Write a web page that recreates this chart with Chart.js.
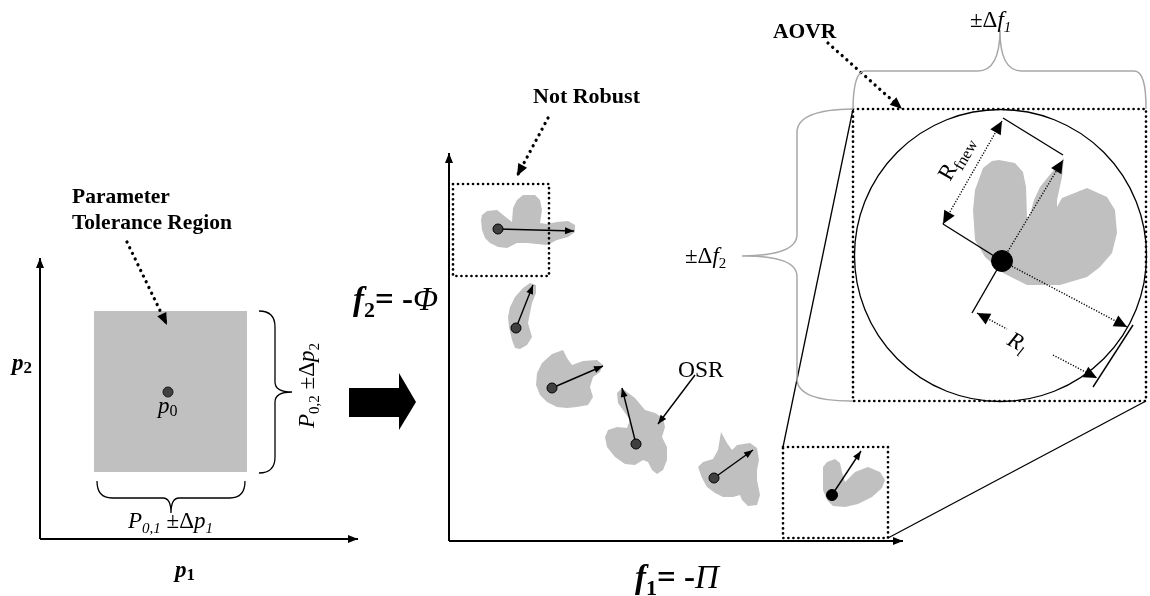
<!DOCTYPE html>
<html>
<head>
<meta charset="utf-8">
<title>Robustness of optimal solutions</title>
<script src="https://cdn.jsdelivr.net/npm/chart.js@4/dist/chart.umd.min.js"></script>
<style>
  html, body { margin: 0; padding: 0; background: #ffffff; overflow: hidden; }
  canvas { display: block; }
</style>
</head>
<body>
<canvas id="diagram" width="1150" height="596"></canvas>
<script>
// ---------------------------------------------------------------
// Geometry of the diagram, in drawing units (x right, y down).
// ---------------------------------------------------------------

// Parameter space (left panel)
const paramAxisX = [[40, 539], [358, 539]];
const paramAxisY = [[40, 539], [40, 258]];
const toleranceRegion = [[94, 311], [247, 311], [247, 472], [94, 472]];
const nominalPoint = [[168, 392]];
const toleranceCallout = [[127, 242], [167, 325]];

// Mapping arrow between the two spaces
const mappingArrow = [[349, 388], [399, 388], [399, 373], [416, 402], [399, 430], [399, 417], [349, 417]];

// Objective space (middle panel)
const objAxisX = [[449, 541], [903, 541]];
const objAxisY = [[449, 541], [449, 153]];

// Optimal solutions: centre point, arrow tip and outline of each OSR
const osrCenters = [[498, 229], [516, 328], [552, 388], [636, 444], [714, 478], [832, 495]];
const osrArrowTips = [[574, 231], [533, 285], [603, 366], [622, 388], [753, 450], [861, 451]];
const osrOutlines = [
  [[482,215],[487,211],[497,210],[507,218],[512,222],[513,208],[517,200],[523,195],[535,195],[540,200],[542,210],[540,223],[547,224],[557,222],[568,221],[575,225],[575,232],[568,237],[557,240],[547,245],[537,244],[527,243],[517,243],[507,248],[498,247],[490,243],[485,238],[482,230],[481,220]],
  [[510,307],[515,297],[523,288],[530,283],[536,285],[536,293],[532,303],[530,313],[528,323],[532,337],[527,345],[520,349],[515,348],[512,340],[509,327],[508,317]],
  [[537,373],[542,363],[552,354],[563,350],[567,358],[572,365],[583,361],[597,360],[603,365],[600,372],[593,377],[590,387],[593,397],[588,405],[577,407],[567,408],[557,407],[547,402],[540,395],[536,385]],
  [[617,393],[622,388],[627,392],[635,398],[645,410],[655,413],[663,418],[665,427],[662,437],[667,447],[667,460],[663,470],[657,474],[652,470],[648,462],[643,460],[635,465],[625,464],[615,457],[607,447],[605,437],[608,430],[617,427],[627,428],[630,420],[623,410],[618,403]],
  [[698,467],[703,462],[713,459],[718,450],[721,432],[727,443],[732,450],[737,445],[750,443],[757,448],[759,460],[757,470],[757,480],[760,495],[757,505],[748,506],[742,500],[740,495],[733,497],[723,497],[715,493],[707,487],[702,478]],
  [[823,467],[827,462],[835,459],[840,463],[842,472],[845,482],[850,477],[855,472],[868,467],[880,472],[885,480],[882,488],[872,497],[858,504],[845,507],[833,506],[827,500],[823,490],[823,477]]
];
const osrPointer = [[695, 375], [658, 424]];

const notRobustBox = [[453, 184], [549, 184], [549, 276], [453, 276]];
const notRobustCallout = [[548, 118], [517, 176]];
const robustBox = [[783, 447], [888, 447], [888, 538], [783, 538]];

// Enlarged view: acceptable objective variation region (AOVR)
const aovrBox = [[853, 109], [1146, 109], [1146, 401], [853, 401]];
const aovrCallout = [[828, 43], [902, 109]];
const zoomLines = [
  [[783, 447], [853, 109]],
  [[888, 538], [1146, 401]]
];
const aovrCircle = { x: 1000.5, y: 255.5, r: 146 };
const aovrOutline = [[975,190],[983,168],[992,161],[999,160],[1015,163],[1023,172],[1026,187],[1027,217],[1029,218],[1034,200],[1040,187],[1052,172],[1060,163],[1064,158],[1062,177],[1057,200],[1057,207],[1062,198],[1087,188],[1107,197],[1115,210],[1117,233],[1112,253],[1100,267],[1087,277],[1060,285],[1027,285],[1003,273],[985,257],[975,240],[973,210]];
const aovrCenter = [[1002, 261]];
const aovrWorstTip = [1063, 160];
const rFnewSpan = [[943, 224], [1002, 121]];
const rFnewWitness = [[[943, 224], [1002, 261]], [[1003, 118], [1063, 155]]];
const rLimitRay = [[1002, 261], [1127, 327]];
const rLimitWitness = [[1002, 261], [972, 313]];
const rLimitTangent = [[1093, 387], [1133, 325]];
const rLimitSpan = [[[977, 313], [1007, 329]], [[1053, 355], [1097, 378]]];

// Curly braces: two ends, the tip, and the shoulder offset
const braces = [
  { from: [259, 311], to: [259, 473], tip: [292, 392], bend: 16, rEnd: 16, rTip: 10, color: '#000000', width: 1.3 },
  { from: [97, 481], to: [245, 481], tip: [171, 513], bend: 17, rEnd: 15, rTip: 8, color: '#000000', width: 1.3 },
  { from: [853, 109], to: [1146, 109], tip: [1000, 30], bend: 38, rEnd: 12, rTip: 22, color: '#a8a8a8', width: 1.5 },
  { from: [853, 109], to: [853, 401], tip: [742, 256], bend: 56, rEnd: 23, rTip: 21, color: '#a8a8a8', width: 1.5 }
];

// ---------------------------------------------------------------
// Text
// ---------------------------------------------------------------
const SERIF = '"Liberation Serif", "Times New Roman", Times, serif';
const f = (style, size) => `${style} ${size}px ${SERIF}`;

const textLabels = [
  { at: [72, 203], parts: [{ t: 'Parameter', f: f('bold', 21.5) }] },
  { at: [72, 229], parts: [{ t: 'Tolerance Region', f: f('bold', 21.5) }] },
  { at: [12, 370], parts: [{ t: 'p', f: f('italic bold', 23) }, { t: '2', f: f('bold', 17), dy: 3 }] },
  { at: [175, 577], parts: [{ t: 'p', f: f('italic bold', 23) }, { t: '1', f: f('bold', 17), dy: 3 }] },
  { at: [158, 413], parts: [{ t: 'p', f: f('italic', 23) }, { t: '0', f: f('normal', 16), dy: 3 }] },
  { at: [128, 528], parts: [
      { t: 'P', f: f('italic', 23) }, { t: '0,1', f: f('italic', 15), dy: 5 },
      { t: ' \u00b1\u0394', f: f('normal', 23) }, { t: 'p', f: f('italic', 23) }, { t: '1', f: f('italic', 15), dy: 5 } ] },
  { at: [314, 428], rot: -90, parts: [
      { t: 'P', f: f('italic', 23) }, { t: '0,2', f: f('normal', 15), dy: 5 },
      { t: ' \u00b1\u0394', f: f('normal', 23) }, { t: 'p', f: f('italic', 23) }, { t: '2', f: f('normal', 15), dy: 5 } ] },
  { at: [353, 310], parts: [
      { t: 'f', f: f('italic bold', 33) }, { t: '2', f: f('bold', 22), dy: 7 },
      { t: '= -', f: f('bold', 33) }, { t: '\u03a6', f: f('italic', 33) } ] },
  { at: [635, 588], parts: [
      { t: 'f', f: f('italic bold', 33) }, { t: '1', f: f('bold', 22), dy: 7 },
      { t: '= -', f: f('bold', 33) }, { t: '\u03a0', f: f('italic', 33) } ] },
  { at: [533, 103], parts: [{ t: 'Not Robust', f: f('bold', 22) }] },
  { at: [678, 377], parts: [{ t: 'OSR', f: f('normal', 23.5) }] },
  { at: [685, 263], parts: [
      { t: '\u00b1\u0394', f: f('normal', 23) }, { t: 'f', f: f('italic', 23) }, { t: '2', f: f('normal', 15), dy: 5 } ] },
  { at: [773, 38], parts: [{ t: 'AOVR', f: f('bold', 21.5) }] },
  { at: [970, 27], parts: [
      { t: '\u00b1\u0394', f: f('normal', 23) }, { t: 'f', f: f('italic', 23) }, { t: '1', f: f('italic', 15), dy: 5 } ] },
  { at: [950, 182], rot: -60, parts: [
      { t: 'R', f: f('normal', 23) }, { t: 'fnew', f: f('normal', 16), dy: 5 } ] },
  { at: [1006, 344], rot: 28.4, parts: [
      { t: 'R', f: f('italic', 23) }, { t: 'l', f: f('italic', 15), dy: 5 } ] }
];

// ---------------------------------------------------------------
// Dataset builders
// ---------------------------------------------------------------
const pts = arr => arr.map(([x, y]) => ({ x, y }));
const GREY = '#c0c0c0';

function shape(arr, color, order) {
  return { type: 'line', data: pts([...arr, arr[0]]), fill: 'shape', backgroundColor: color,
           borderColor: 'rgba(0,0,0,0)', borderWidth: 1, pointRadius: 0, tension: 0, order };
}
function path(arr, extra) {
  return Object.assign({ type: 'line', data: pts(arr), fill: false, borderColor: '#000000',
                         borderWidth: 1.5, pointRadius: 0, tension: 0, order: 4 }, extra || {});
}
const bigDots = { borderDash: [0.01, 5], borderCapStyle: 'round', borderWidth: 2.7 };
const calloutDots = { borderDash: [0.01, 6.3], borderCapStyle: 'round', borderWidth: 3.3 };
const fineDots = { borderDash: [1.2, 1.6], borderWidth: 1.4 };

const datasets = [];

// filled regions
datasets.push(shape(toleranceRegion, GREY, 9));
osrOutlines.forEach(o => datasets.push(shape(o, GREY, 9)));
datasets.push(shape(aovrOutline, GREY, 9));
datasets.push(shape(mappingArrow, '#000000', 9));

// axes
datasets.push(path(paramAxisX, { borderWidth: 2, head: [10, 4] }));
datasets.push(path(paramAxisY, { borderWidth: 2, head: [10, 4] }));
datasets.push(path(objAxisX, { borderWidth: 2, head: [10, 4] }));
datasets.push(path(objAxisY, { borderWidth: 2, head: [10, 4] }));

// callouts
datasets.push(path(toleranceCallout, Object.assign({ head: [12, 5] }, calloutDots)));
datasets.push(path(notRobustCallout, Object.assign({ head: [12, 5] }, calloutDots)));
datasets.push(path(aovrCallout, Object.assign({ head: [12, 5] }, calloutDots)));

// dotted frames and the lines joining the small frame to its enlargement
datasets.push(path([...notRobustBox, notRobustBox[0]], bigDots));
datasets.push(path([...robustBox, robustBox[0]], bigDots));
datasets.push(path([...aovrBox, aovrBox[0]], bigDots));
zoomLines.forEach(l => datasets.push(path(l, { borderWidth: 1.3 })));

// improvement arrows of each OSR
osrCenters.forEach((c, i) => datasets.push(path([c, osrArrowTips[i]], { borderWidth: 1.4, head: [9, 3.5] })));
datasets.push(path(osrPointer, { borderWidth: 1.4, head: [9, 3.5] }));

// enlarged view construction
datasets.push({
  type: 'scatter', data: pts([[aovrCircle.x, aovrCircle.y]]), order: 6,
  pointRadius: ctx => {
    const s = ctx.chart.scales.x;
    return s.getPixelForValue(aovrCircle.x + aovrCircle.r) - s.getPixelForValue(aovrCircle.x);
  },
  pointBackgroundColor: 'rgba(0,0,0,0)', pointBorderColor: '#000000', pointBorderWidth: 1.3
});
datasets.push(path(rFnewSpan, Object.assign({ head: [13, 6], tail: [13, 6] }, fineDots)));
rFnewWitness.forEach(l => datasets.push(path(l, { borderWidth: 1.4 })));
datasets.push(path([aovrCenter[0], aovrWorstTip], Object.assign({ head: [13, 6] }, fineDots)));
datasets.push(path(rLimitRay, Object.assign({ head: [13, 6] }, fineDots)));
datasets.push(path(rLimitWitness, { borderWidth: 1.4 }));
datasets.push(path(rLimitTangent, { borderWidth: 1.4 }));
datasets.push(path(rLimitSpan[0], Object.assign({ tail: [13, 6] }, fineDots)));
datasets.push(path(rLimitSpan[1], Object.assign({ head: [13, 6] }, fineDots)));

// points
datasets.push({ type: 'scatter', data: pts(nominalPoint), order: 1, pointRadius: 5,
                pointBackgroundColor: '#404040', pointBorderColor: '#1a1a1a', pointBorderWidth: 1 });
datasets.push({ type: 'scatter', data: pts(osrCenters.slice(0, 5)), order: 1, pointRadius: 5,
                pointBackgroundColor: '#404040', pointBorderColor: '#000000', pointBorderWidth: 1 });
datasets.push({ type: 'scatter', data: pts(osrCenters.slice(5)), order: 1, pointRadius: 5.5,
                pointBackgroundColor: '#000000', pointBorderColor: '#000000', pointBorderWidth: 1 });
datasets.push({ type: 'scatter', data: pts(aovrCenter), order: 1, pointRadius: 10.5,
                pointBackgroundColor: '#000000', pointBorderColor: '#000000', pointBorderWidth: 1 });

// ---------------------------------------------------------------
// Plugins: arrow heads, braces and text, all placed through the scales
// ---------------------------------------------------------------
function toPx(chart, p) {
  return [chart.scales.x.getPixelForValue(p[0]), chart.scales.y.getPixelForValue(p[1])];
}

function triangle(ctx, from, to, size) {
  const a = Math.atan2(to.y - from.y, to.x - from.x);
  ctx.save();
  ctx.translate(to.x, to.y);
  ctx.rotate(a);
  ctx.beginPath();
  ctx.moveTo(0, 0);
  ctx.lineTo(-size[0], size[1]);
  ctx.lineTo(-size[0], -size[1]);
  ctx.closePath();
  ctx.fillStyle = '#000000';
  ctx.fill();
  ctx.restore();
}

const arrowHeads = {
  id: 'arrowHeads',
  afterDatasetsDraw(chart) {
    const ctx = chart.ctx;
    chart.data.datasets.forEach((ds, i) => {
      if (!ds.head && !ds.tail) return;
      const el = chart.getDatasetMeta(i).data;
      const n = el.length;
      if (ds.head) triangle(ctx, el[n - 2], el[n - 1], ds.head);
      if (ds.tail) triangle(ctx, el[1], el[0], ds.tail);
    });
  }
};

const curlyBraces = {
  id: 'curlyBraces',
  afterDatasetsDraw(chart) {
    const ctx = chart.ctx;
    braces.forEach(b => {
      const [x0, y0] = b.from, [x1, y1] = b.to;
      const len = Math.hypot(x1 - x0, y1 - y0);
      const ux = (x1 - x0) / len, uy = (y1 - y0) / len;
      const mx = (x0 + x1) / 2, my = (y0 + y1) / 2;
      const depth = Math.hypot(b.tip[0] - mx, b.tip[1] - my);
      const nx = (b.tip[0] - mx) / depth, ny = (b.tip[1] - my) / depth;
      const q = b.bend;
      const P = (along, across, ox, oy) => toPx(chart, [ox + ux * along + nx * across, oy + uy * along + ny * across]);
      const s0 = P(0, 0, x0, y0), c0 = P(0, q, x0, y0), a0 = P(b.rEnd, q, x0, y0);
      const b0 = P(-b.rTip, q, mx, my), cm = P(0, q, mx, my), t = P(0, depth, mx, my);
      const b1 = P(b.rTip, q, mx, my);
      const a1 = P(-b.rEnd, q, x1, y1), c1 = P(0, q, x1, y1), s1 = P(0, 0, x1, y1);
      ctx.save();
      ctx.strokeStyle = b.color;
      ctx.lineWidth = b.width;
      ctx.beginPath();
      ctx.moveTo(...s0);
      ctx.quadraticCurveTo(...c0, ...a0);
      ctx.lineTo(...b0);
      ctx.quadraticCurveTo(...cm, ...t);
      ctx.quadraticCurveTo(...cm, ...b1);
      ctx.lineTo(...a1);
      ctx.quadraticCurveTo(...c1, ...s1);
      ctx.stroke();
      ctx.restore();
    });
  }
};

const richText = {
  id: 'richText',
  afterDraw(chart) {
    const ctx = chart.ctx;
    textLabels.forEach(l => {
      const [x, y] = toPx(chart, l.at);
      ctx.save();
      ctx.translate(x, y);
      if (l.rot) ctx.rotate(l.rot * Math.PI / 180);
      ctx.textAlign = 'left';
      ctx.textBaseline = 'alphabetic';
      ctx.fillStyle = '#000000';
      let cx = 0;
      l.parts.forEach(p => {
        ctx.font = p.f;
        ctx.fillText(p.t, cx, p.dy || 0);
        cx += ctx.measureText(p.t).width;
      });
      ctx.restore();
    });
  }
};

new Chart(document.getElementById('diagram'), {
  type: 'scatter',
  data: { datasets },
  options: {
    responsive: false,
    animation: false,
    devicePixelRatio: 1,
    events: [],
    layout: { padding: 0, autoPadding: false },
    plugins: { legend: { display: false }, tooltip: { enabled: false } },
    scales: {
      x: { type: 'linear', min: 0, max: 1150, display: false },
      y: { type: 'linear', min: 0, max: 596, reverse: true, display: false }
    }
  },
  plugins: [arrowHeads, curlyBraces, richText]
});
</script>
</body>
</html>
